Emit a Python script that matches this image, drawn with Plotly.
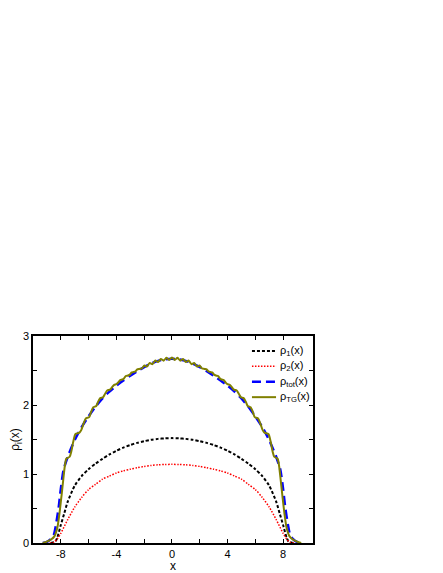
"""Density profiles rho_i(x) of the trapped mixture, redrawn with Plotly"""

import plotly.graph_objects as go
from plotly.graph_objects import Figure

# rho_1(x), black short dashes
x_rho1 = [-8.7, -8.4, -8.25, -8.0, -7.75, -7.5, -7.0, -6.5, -6.0, -5.5, -5.0, -4.5, -4.0, -3.5,
          -3.0, -2.5, -2.0, -1.5, -1.0, -0.5, 0.0, 0.5, 1.0, 1.5, 2.0, 2.5, 3.0, 3.5, 4.0,
          4.5, 5.0, 5.5, 6.0, 6.5, 7.0, 7.5, 7.75, 8.0, 8.25, 8.4, 8.7]
y_rho1 = [0.0, 0.02, 0.08, 0.26, 0.43, 0.60, 0.83, 0.97, 1.07, 1.15, 1.22, 1.283, 1.337, 1.382,
          1.42, 1.451, 1.476, 1.496, 1.509, 1.517, 1.52, 1.517, 1.509, 1.496, 1.476, 1.451, 1.42, 1.382, 1.337,
          1.283, 1.22, 1.15, 1.07, 0.97, 0.83, 0.60, 0.43, 0.26, 0.08, 0.02, 0.0]

# rho_2(x), red dots
x_rho2 = [-8.8, -8.5, -8.25, -8.0, -7.5, -7.0, -6.5, -6.0, -5.5, -5.0, -4.5, -4.0, -3.5, -3.0,
          -2.5, -2.0, -1.5, -1.0, -0.5, 0.0, 0.5, 1.0, 1.5, 2.0, 2.5, 3.0, 3.5, 4.0, 4.5,
          5.0, 5.5, 6.0, 6.5, 7.0, 7.5, 8.0, 8.25, 8.5, 8.8]
y_rho2 = [0.0, 0.01, 0.06, 0.14, 0.34, 0.52, 0.66, 0.775, 0.85, 0.925, 0.97, 1.015, 1.045, 1.07,
          1.09, 1.11, 1.124, 1.133, 1.138, 1.14, 1.138, 1.133, 1.124, 1.11, 1.09, 1.07, 1.045, 1.015, 0.97,
          0.925, 0.85, 0.775, 0.66, 0.52, 0.34, 0.14, 0.06, 0.01, 0.0]

# rho_tot(x), blue long dashes
x_tot = [-9.3, -9.0, -8.7, -8.5, -8.35, -8.15, -8.0, -7.8, -7.5, -7.0, -6.5, -6.0, -5.5, -5.0,
         -4.5, -4.0, -3.5, -3.0, -2.5, -2.0, -1.5, -1.0, -0.5, 0.0, 0.5, 1.0, 1.5, 2.0, 2.5,
         3.0, 3.5, 4.0, 4.5, 5.0, 5.5, 6.0, 6.5, 7.0, 7.5, 7.8, 8.0, 8.15, 8.35, 8.5, 8.7,
         9.0, 9.3]
y_tot = [0.0, 0.015, 0.06, 0.12, 0.26, 0.52, 0.78, 1.06, 1.25, 1.49, 1.68, 1.835, 1.975, 2.095,
         2.195, 2.28, 2.355, 2.425, 2.49, 2.55, 2.60, 2.64, 2.662, 2.67, 2.662, 2.64, 2.60, 2.55, 2.49,
         2.425, 2.355, 2.28, 2.195, 2.095, 1.975, 1.835, 1.68, 1.49, 1.25, 1.06, 0.78, 0.52, 0.26, 0.12, 0.06,
         0.015, 0.0]

# rho_TG(x), olive solid with shell steps
x_tg = [-9.3, -9.0, -8.7, -8.45, -8.25, -8.1, -7.95, -7.8, -7.7, -7.6, -7.36, -7.25, -7.1, -6.94,
        -6.66, -6.52, -6.38, -6.2, -5.96, -5.82, -5.66, -5.45, -5.32, -5.16, -4.96, -4.82, -4.66,
        -4.46, -4.32, -4.16, -4.0, -3.87, -3.72, -3.58, -3.45, -3.32, -3.16, -3.03, -2.9, -2.76,
        -2.62, -2.5, -2.35, -2.16, -1.98, -1.8, -1.6, -1.4, -1.2, -1.0, -0.8, -0.6, -0.4, -0.2,
        0.0,
        0.2, 0.4, 0.6, 0.8, 1.0, 1.2, 1.4, 1.6, 1.8, 1.98, 2.16, 2.35, 2.5, 2.62, 2.76, 2.9,
        3.03, 3.16, 3.32, 3.45, 3.58, 3.72, 3.87, 4.0, 4.16, 4.32, 4.46, 4.66, 4.82, 4.96, 5.16,
        5.32, 5.45, 5.66, 5.82, 5.96, 6.2, 6.38, 6.52, 6.66, 6.94, 7.1, 7.25, 7.36, 7.6, 7.7,
        7.8, 7.95, 8.1, 8.25, 8.45, 8.7, 9.0, 9.3]
y_tg = [0.0, 0.02, 0.05, 0.10, 0.22, 0.42, 0.68, 0.96, 1.13, 1.222, 1.25, 1.32, 1.47, 1.58,
        1.60, 1.64, 1.72, 1.805, 1.825, 1.90, 1.968, 1.985, 2.045, 2.10, 2.112, 2.16, 2.21,
        2.222, 2.255, 2.292, 2.302, 2.325, 2.362, 2.37, 2.385, 2.42, 2.428, 2.44, 2.472, 2.478,
        2.488, 2.515, 2.522, 2.53, 2.572, 2.558, 2.61, 2.592, 2.645, 2.622, 2.668, 2.642, 2.684, 2.652,
        2.69,
        2.652, 2.684, 2.642, 2.668, 2.622, 2.645, 2.592, 2.61, 2.558, 2.572, 2.53, 2.522, 2.515, 2.488, 2.478, 2.472,
        2.44, 2.428, 2.42, 2.385, 2.37, 2.362, 2.325, 2.302, 2.292, 2.255, 2.222, 2.21, 2.16, 2.112, 2.10,
        2.045, 1.985, 1.968, 1.90, 1.825, 1.805, 1.72, 1.64, 1.60, 1.58, 1.47, 1.32, 1.25, 1.222, 1.13,
        0.96, 0.68, 0.42, 0.22, 0.10, 0.05, 0.02, 0.0]

# axis ticks: every tick drawn, only some labelled
x_ticks = [-8, -6, -4, -2, 0, 2, 4, 6, 8]
x_labels = ["-8", "", "-4", "", "0", "", "4", "", "8"]
y_ticks = [0, 0.5, 1, 1.5, 2, 2.5, 3]
y_labels = ["0", "", "1", "", "2", "", "3"]

# legend entries (drawn by hand, the built-in legend rows are too tall)
legend_names = ["ρ<sub>1</sub>(x)", "ρ<sub>2</sub>(x)", "ρ<sub>tot</sub>(x)", "ρ<sub>TG</sub>(x)"]

FONT = "Liberation Sans, Arial, sans-serif"


def add_curve(fig: Figure, x, y, name: str, color: str, width: float, dash: str) -> None:
    """Adds one density curve to the figure"""
    fig.add_trace(go.Scatter(
        x=x,
        y=y,
        mode="lines",
        name=name,
        showlegend=False,
        line=dict(color=color, width=width, dash=dash, shape="spline", smoothing=0.7),
    ))


def add_legend_row(fig: Figure, row: int, name: str, color: str, width: float, dash: str) -> None:
    """Draws one legend row (line sample + label) in the top right of the plot"""
    y = 0.928 - 0.0745 * row
    fig.add_shape(type="line", xref="paper", yref="paper",
                  x0=0.782, x1=0.868, y0=y, y1=y,
                  line=dict(color=color, width=width, dash=dash))
    fig.add_annotation(xref="paper", yref="paper", x=0.874, y=y,
                       xanchor="left", yanchor="middle", showarrow=False,
                       text=name, font=dict(family=FONT, size=11, color="#000000"))


styles = [
    ("#000000", 2, "3px,2px"),
    ("#ff0000", 1.5, "1.5px,1.5px"),
    ("#0000ff", 2.5, "9px,5px"),
    ("#808000", 2, "solid"),
]

fig = Figure()
for (x, y), name, (color, width, dash) in zip(
        [(x_rho1, y_rho1), (x_rho2, y_rho2), (x_tot, y_tot), (x_tg, y_tg)], legend_names, styles):
    add_curve(fig, x, y, name, color, width, dash)

for i, (name, (color, width, dash)) in enumerate(zip(legend_names, styles)):
    add_legend_row(fig, i, name, color, width, dash)

axis_style = dict(
    showline=True,
    linecolor="#000000",
    linewidth=1.5,
    mirror="ticks",
    ticks="inside",
    ticklen=4,
    tickwidth=1.2,
    tickcolor="#000000",
    showgrid=False,
    zeroline=False,
    automargin=False,
    tickfont=dict(family=FONT, size=11, color="#000000"),
)

# the page adds an 8px body margin, so the figure is a bit smaller than the window
fig.update_layout(
    width=435,
    height=565,
    margin=dict(l=25, r=130, t=328, b=30),
    paper_bgcolor="#ffffff",
    plot_bgcolor="#ffffff",
    font=dict(family=FONT, size=11, color="#000000"),
    showlegend=False,
)
fig.update_xaxes(
    range=[-10, 10.15],
    tickvals=x_ticks,
    ticktext=x_labels,
    title=dict(text="x", font=dict(family=FONT, size=12), standoff=0),
    **axis_style,
)
fig.update_yaxes(
    range=[0, 3],
    tickvals=y_ticks,
    ticktext=y_labels,
    title=dict(text="ρ<sub>i</sub>(x)", font=dict(family=FONT, size=12), standoff=4),
    **axis_style,
)

fig.write_html("out.html")
